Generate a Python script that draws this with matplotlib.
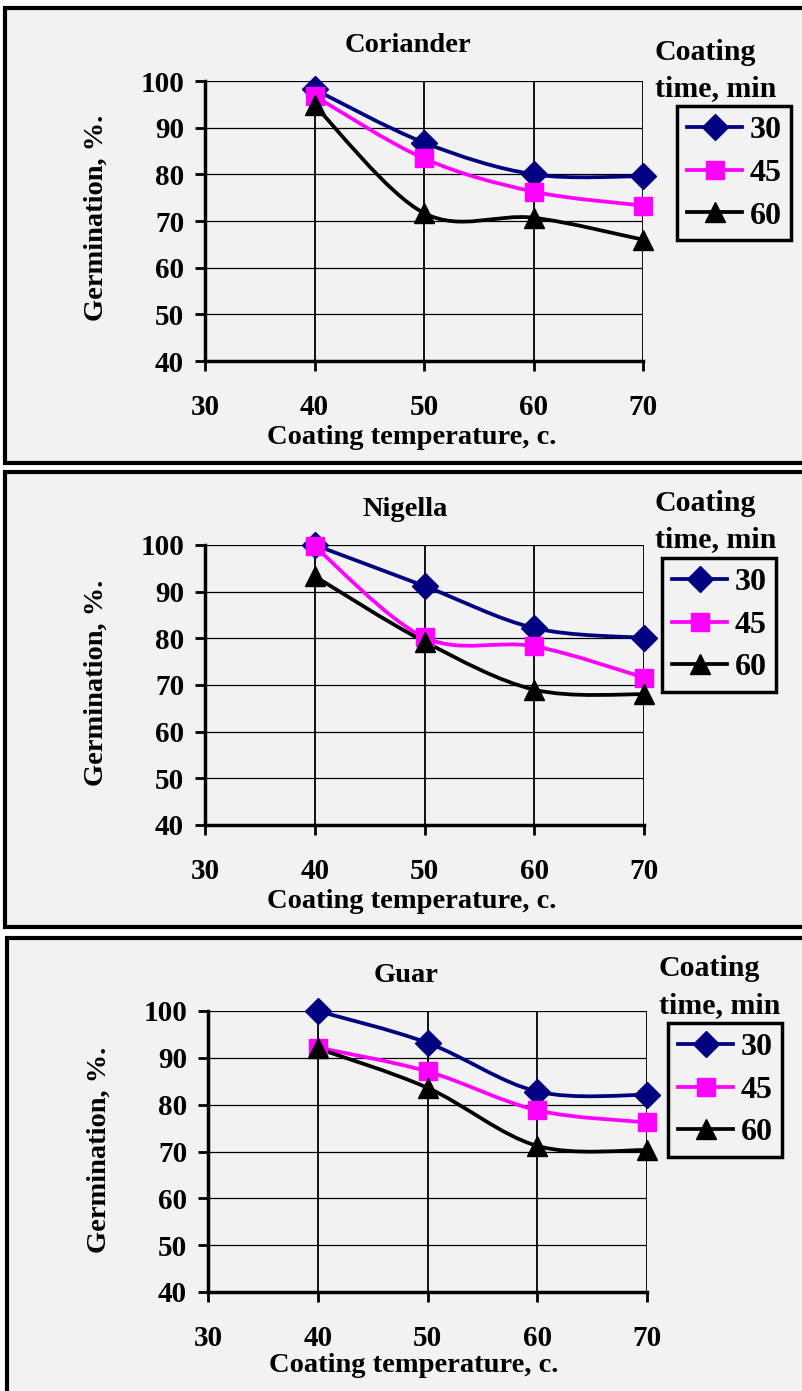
import numpy as np
import matplotlib
matplotlib.use("Agg")
import matplotlib.pyplot as plt
from matplotlib.path import Path
from matplotlib.patches import PathPatch, Rectangle
from matplotlib.lines import Line2D

# ---- data ----
temps = [40, 50, 60, 70]
times = ['30', '45', '60']

crops = ['Coriander', 'Nigella', 'Guar']
coriander = [[98.2, 86.8, 80.0, 79.6],
             [96.8, 83.4, 76.3, 73.3],
             [94.8, 71.7, 70.7, 66.0]]
nigella = [[100.0, 91.2, 82.2, 80.1],
           [99.7, 80.2, 78.3, 71.6],
           [93.3, 79.3, 69.0, 68.0]]
guar = [[100.0, 93.2, 82.8, 82.1],
        [92.2, 87.1, 78.8, 76.2],
        [92.0, 83.6, 71.2, 70.3]]

x_ticks = [30, 40, 50, 60, 70]
y_ticks = [40, 50, 60, 70, 80, 90, 100]

colors = ['#000080', '#ff00ff', '#000000']
markers = ['D', 's', '^']
msizes = [13, 13, 15]

W, H = 802, 1391
plt.rcParams['font.family'] = ['Liberation Serif', 'DejaVu Serif']
plt.rcParams['font.weight'] = 'bold'
fig = plt.figure(figsize=(W / 100, H / 100), dpi=100)
fig.patch.set_facecolor('white')


def fx(x):
    return x / W


def fy(y):
    return 1 - y / H


def smooth_path(xs, ys):
    # Excel-style smoothed line as cubic Bezier segments
    pts = np.column_stack([xs, ys]).astype(float)
    n = len(pts)
    verts = [pts[0]]
    codes = [Path.MOVETO]
    for i in range(n - 1):
        p0 = pts[i - 1] if i > 0 else pts[i]
        p1 = pts[i]
        p2 = pts[i + 1]
        p3 = pts[i + 2] if i + 2 < n else pts[i + 1]
        c1 = p1 + (p2 - p0) / 6.0
        c2 = p2 - (p3 - p1) / 6.0
        verts += [c1, c2, p2]
        codes += [Path.CURVE4] * 3
    return Path(verts, codes)


# panel boxes (top, bottom, left) and axes (left, right, top, bottom) in pixels
panels = [
    dict(box=(8, 463, 5), ax=(205, 643, 81, 361), title=(408, 46),
         leg_title=(655, 52), leg=(677, 106), xlab=(412, 438), ylab=(96, 218)),
    dict(box=(472, 927, 5), ax=(205, 644, 545, 825), title=(405, 510),
         leg_title=(655, 503), leg=(662, 558), xlab=(412, 902), ylab=(96, 683)),
    dict(box=(938, 1400, 7), ax=(208, 647, 1011, 1292), title=(406, 975),
         leg_title=(659, 969), leg=(668, 1023), xlab=(414, 1366), ylab=(99, 1150)),
]
datasets = [coriander, nigella, guar]

for crop, data, p in zip(crops, datasets, panels):
    top, bottom, left = p['box']
    fig.patches.append(Rectangle((fx(left), fy(bottom)), 1.2, (bottom - top) / H,
                                 transform=fig.transFigure, facecolor='#f2f2f2',
                                 edgecolor='black', linewidth=3, zorder=-5))
    l, r, t, b = p['ax']
    ax = fig.add_axes([fx(l), fy(b), (r - l) / W, (b - t) / H])
    ax.set_facecolor('none')
    ax.set_xlim(30, 70)
    ax.set_ylim(40, 100)
    ax.set_xticks(x_ticks)
    ax.set_yticks(y_ticks)
    for s in ['top', 'right']:
        ax.spines[s].set_visible(False)
    for s in ['left', 'bottom']:
        ax.spines[s].set_linewidth(2.5)
    ax.tick_params(axis='both', direction='out', length=7, width=2,
                   labelsize=21)
    ax.tick_params(axis='y', pad=8)
    ax.tick_params(axis='x', pad=17)
    for lab in ax.get_xticklabels() + ax.get_yticklabels():
        lab.set_fontweight('bold')
    for yv in y_ticks[1:]:
        ax.axhline(yv, color='black', lw=0.9, zorder=1)
    for xv in x_ticks[1:]:
        ax.axvline(xv, color='black', lw=1.3, zorder=1)

    for vals, c, m, ms in zip(data, colors, markers, msizes):
        ax.add_patch(PathPatch(smooth_path(temps, vals), facecolor='none',
                               edgecolor=c, lw=2.7, zorder=3, clip_on=False))
        ax.plot(temps, vals, linestyle='none', marker=m, ms=ms, color=c,
                zorder=4, clip_on=False)

    fig.text(fx(p['title'][0]), fy(p['title'][1]), crop, ha='center',
             va='center', fontsize=20.5, fontweight='bold')
    fig.text(fx(p['xlab'][0]), fy(p['xlab'][1]), 'Coating temperature, c.',
             ha='center', va='center', fontsize=20.5, fontweight='bold')
    fig.text(fx(p['ylab'][0]), fy(p['ylab'][1]), 'Germination, %.',
             ha='center', va='center', rotation=90, fontsize=20.5,
             fontweight='bold')
    fig.text(fx(p['leg_title'][0]), fy(p['leg_title'][1]), 'Coating',
             ha='left', va='center', fontsize=21.5, fontweight='bold')
    fig.text(fx(p['leg_title'][0]), fy(p['leg_title'][1] + 37), 'time, min',
             ha='left', va='center', fontsize=21.5, fontweight='bold')

    handles = [Line2D([0], [0], color=c, lw=2.7, marker=m, ms=ms)
               for c, m, ms in zip(colors, markers, msizes)]
    leg = fig.legend(handles, times, loc='upper left',
                     bbox_to_anchor=(fx(p['leg'][0]), fy(p['leg'][1])),
                     bbox_transform=fig.transFigure, borderaxespad=0,
                     fancybox=False, framealpha=1, facecolor='#f2f2f2',
                     edgecolor='black', handlelength=1.75, handletextpad=0.22,
                     labelspacing=0.42, borderpad=0.3, numpoints=1,
                     prop=dict(size=23, weight='bold'))
    leg.get_frame().set_linewidth(2.5)

fig.savefig('out.png', dpi=100, facecolor='white')
